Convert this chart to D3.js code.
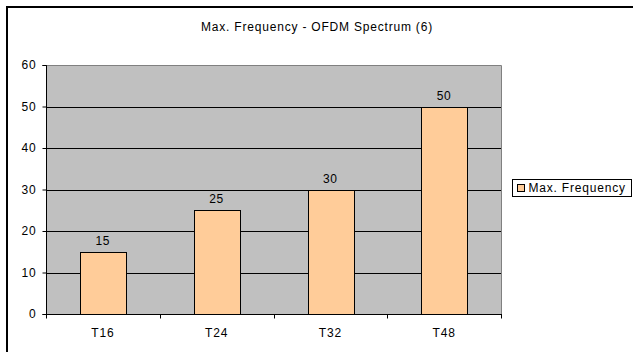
<!DOCTYPE html>
<html>
<head>
<meta charset="utf-8">
<script src="https://cdn.jsdelivr.net/npm/d3@7"></script>
<style>
  html, body { margin: 0; padding: 0; background: #fff; overflow: hidden; }
  svg { display: block; font-family: "Liberation Sans", Arial, sans-serif; }
  svg text { letter-spacing: 0.8px; }
</style>
</head>
<body>
<svg id="chart" width="633" height="352"></svg>
<script>
// Chart data
const categories = ["T16", "T24", "T32", "T48"];
const maxFrequency = [15, 25, 30, 50];
const yTicks = [0, 10, 20, 30, 40, 50, 60];
const chartTitle = "Max. Frequency - OFDM Spectrum (6)";
const seriesName = "Max. Frequency";

const svg = d3.select("#chart");
const plot = { left: 46, top: 65, right: 501, bottom: 314 };
const fontSize = 12;

// Outer chart frame: left and top edges (the rest runs off the page)
const frame = svg.append("g");
frame.append("line").attr("x1", 7).attr("x2", 7).attr("y1", 6).attr("y2", 352)
  .attr("stroke", "#000").attr("stroke-width", 2);
frame.append("line").attr("x1", 6).attr("x2", 633).attr("y1", 7).attr("y2", 7)
  .attr("stroke", "#000").attr("stroke-width", 2);

// Title
svg.append("text")
  .attr("x", 317).attr("y", 31)
  .attr("text-anchor", "middle")
  .attr("font-size", fontSize)
  .attr("fill", "#000")
  .text(chartTitle);

const x = d3.scaleBand()
  .domain(categories)
  .range([plot.left, plot.right])
  .paddingInner(0.6)
  .paddingOuter(0.3);

const y = d3.scaleLinear()
  .domain([0, 60])
  .range([plot.bottom, plot.top]);

// Plot background
svg.append("rect")
  .attr("x", plot.left).attr("y", plot.top)
  .attr("width", plot.right - plot.left)
  .attr("height", plot.bottom - plot.top)
  .attr("fill", "#c0c0c0");

// Horizontal gridlines
svg.append("g")
  .selectAll("line")
  .data(yTicks.filter(d => d > 0 && d < 60))
  .join("line")
  .attr("x1", plot.left).attr("x2", plot.right)
  .attr("y1", d => Math.round(y(d)) + 0.5)
  .attr("y2", d => Math.round(y(d)) + 0.5)
  .attr("stroke", "#000").attr("stroke-width", 1);

// Plot border (top and right in grey)
svg.append("path")
  .attr("d", `M${plot.left},${plot.top + 0.5}H${plot.right + 0.5}V${plot.bottom}`)
  .attr("fill", "none").attr("stroke", "#808080").attr("stroke-width", 1);

const rows = categories.map((c, i) => ({ c, v: maxFrequency[i] }));

// Bars
svg.append("g")
  .selectAll("rect")
  .data(rows)
  .join("rect")
  .attr("x", d => Math.round(x(d.c)) + 0.5)
  .attr("y", d => Math.round(y(d.v)) + 0.5)
  .attr("width", Math.round(x.bandwidth()))
  .attr("height", d => Math.round(y(0)) - Math.round(y(d.v)))
  .attr("fill", "#ffcc99")
  .attr("stroke", "#000").attr("stroke-width", 1);

// Value labels
svg.append("g")
  .selectAll("text")
  .data(rows)
  .join("text")
  .attr("x", d => x(d.c) + x.bandwidth() / 2)
  .attr("y", d => y(d.v) - 7)
  .attr("text-anchor", "middle")
  .attr("font-size", fontSize)
  .attr("fill", "#000")
  .text(d => d.v);

// Y axis
const yAxis = d3.axisLeft(y).tickValues(yTicks).tickSize(4).tickPadding(6);
const gy = svg.append("g")
  .attr("transform", `translate(${plot.left + 0.5},0)`)
  .call(yAxis);
gy.selectAll("text")
  .attr("font-size", fontSize)
  .attr("fill", "#000")
  .attr("font-family", "Liberation Sans, Arial, sans-serif");
gy.selectAll("line, path").attr("stroke", "#000");
gy.select(".domain").attr("d", `M-4,${plot.top + 0.5}H0V${plot.bottom + 0.5}H-4`);

// X axis with ticks at category boundaries
const gx = svg.append("g")
  .attr("transform", `translate(0,${plot.bottom + 0.5})`);
gx.append("line")
  .attr("x1", plot.left).attr("x2", plot.right + 1)
  .attr("stroke", "#000");
const boundaries = d3.range(categories.length + 1)
  .map(i => plot.left + i * (plot.right - plot.left) / categories.length);
gx.selectAll("line.tick")
  .data(boundaries)
  .join("line")
  .attr("class", "tick")
  .attr("x1", d => Math.round(d) + 0.5).attr("x2", d => Math.round(d) + 0.5)
  .attr("y1", 0).attr("y2", 4)
  .attr("stroke", "#000");
gx.selectAll("text")
  .data(categories)
  .join("text")
  .attr("x", d => x(d) + x.bandwidth() / 2)
  .attr("y", 22)
  .attr("text-anchor", "middle")
  .attr("font-size", fontSize)
  .attr("fill", "#000")
  .text(d => d);

// Legend
const lg = svg.append("g").attr("transform", "translate(512.5,179.5)");
lg.append("rect")
  .attr("width", 119).attr("height", 17)
  .attr("fill", "#fff").attr("stroke", "#000");
lg.append("rect")
  .attr("x", 5).attr("y", 5)
  .attr("width", 7).attr("height", 7)
  .attr("fill", "#ffcc99").attr("stroke", "#000");
lg.append("text")
  .attr("x", 16).attr("y", 12.5)
  .attr("font-size", fontSize)
  .attr("fill", "#000")
  .text(seriesName);
</script>
</body>
</html>
